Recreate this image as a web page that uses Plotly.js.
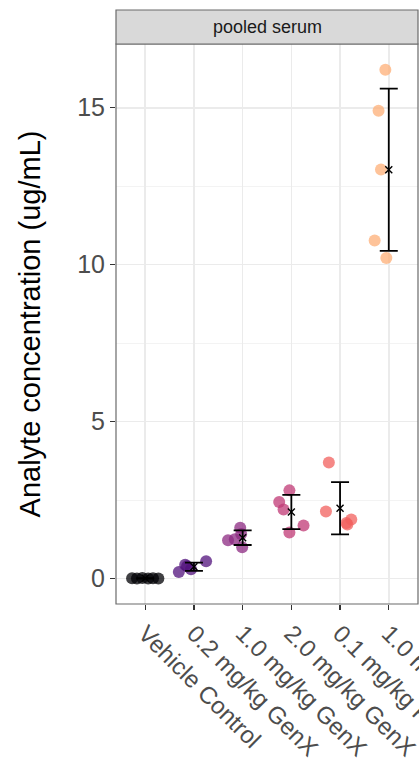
<!DOCTYPE html>
<html>
<head>
<meta charset="utf-8">
<script src="https://cdn.plot.ly/plotly-3.0.1.min.js"></script>
<style>
html,body{margin:0;padding:0;background:#fff;overflow:hidden;}
#chart{width:419px;height:759px;}
</style>
</head>
<body>
<div id="chart"></div>
<script>
// ---- data ----
const categories = ['Vehicle Control', '0.2 mg/kg GenX', '1.0 mg/kg GenX', '2.0 mg/kg GenX', '0.1 mg/kg PFOA', '1.0 mg/kg PFOA'];
const facetLabel = 'pooled serum';
const yTitle = 'Analyte concentration (ug/mL)';

const vehicleControl = [0.01, 0.00, 0.02, 0.00, 0.01, 0.00];
const genx02 = [0.21, 0.44, 0.39, 0.30, 0.55];
const genx10 = [1.62, 1.22, 1.00, 1.25, 1.42];
const genx20 = [2.81, 2.44, 2.20, 1.69, 1.47];
const pfoa01 = [3.70, 2.14, 1.77, 1.88, 1.72];
const pfoa10 = [16.21, 14.90, 13.03, 10.77, 10.21];

// horizontal jitter offsets (category units) as seen in the picture
const jitterVehicle = [-0.27, -0.17, -0.06, 0.06, 0.16, 0.27];
const jitterGenx02 = [-0.31, -0.18, -0.14, -0.06, 0.25];
const jitterGenx10 = [-0.05, -0.30, -0.01, -0.16, -0.03];
const jitterGenx20 = [-0.04, -0.25, -0.16, 0.25, -0.04];
const jitterPfoa01 = [-0.23, -0.29, 0.13, 0.23, 0.15];
const jitterPfoa10 = [-0.07, -0.21, -0.16, -0.29, -0.05];

const groupColors = ['#000004', '#51127c', '#8c2981', '#c03a76', '#f1605d', '#feaf77'];

const groups = [vehicleControl, genx02, genx10, genx20, pfoa01, pfoa10];
const jitters = [jitterVehicle, jitterGenx02, jitterGenx10, jitterGenx20, jitterPfoa01, jitterPfoa10];

function mean(a){ return a.reduce((s,v)=>s+v,0)/a.length; }
function sd(a){ const m=mean(a); return Math.sqrt(a.reduce((s,v)=>s+(v-m)*(v-m),0)/(a.length-1)); }

const traces = [];
groups.forEach((vals, i) => {
  traces.push({
    type: 'scatter', mode: 'markers',
    x: vals.map((v, j) => i + jitters[i][j]),
    y: vals,
    marker: {size: 12, color: groupColors[i], opacity: 0.75, line: {width: 0}},
    hoverinfo: 'skip', showlegend: false
  });
});

const idx = categories.map((c, i) => i);
traces.push({
  type: 'scatter', mode: 'markers',
  x: idx,
  y: groups.map(mean),
  error_y: {type: 'data', array: groups.map(sd), visible: true, color: '#000000', thickness: 1.8, width: 9},
  marker: {symbol: 'x-thin-open', size: 7, color: '#000000', line: {width: 1.4, color: '#000000'}},
  hoverinfo: 'skip', showlegend: false
});

const font = "'Liberation Sans', Arial, Helvetica, sans-serif";
const plotTop = 44, plotBottom = 604, H = 759;
const plotH = plotBottom - plotTop;
const stripH = 34;

const layout = {
  width: 419, height: 759,
  margin: {l: 116, r: 1, t: plotTop, b: H - plotBottom, pad: 0},
  paper_bgcolor: '#ffffff', plot_bgcolor: '#ffffff',
  font: {family: font, color: '#4d4d4d'},
  xaxis: {
    type: 'linear', range: [-0.6, 5.6],
    tickmode: 'array', tickvals: idx, ticktext: categories,
    tickangle: 45, tickfont: {size: 24, color: '#4d4d4d', family: font},
    ticklabeloverflow: 'allow',
    ticks: 'outside', ticklen: 5, tickwidth: 1.2, tickcolor: '#333333',
    showgrid: true, gridcolor: '#ebebeb', gridwidth: 1.6,
    zeroline: false, showline: false, fixedrange: true
  },
  yaxis: {
    range: [-0.81, 17.03],
    tickmode: 'array', tickvals: [0, 5, 10, 15], ticktext: ['0', '5', '10', '15'],
    tickfont: {size: 25, color: '#4d4d4d', family: font},
    ticks: 'outside', ticklen: 5, tickwidth: 1.2, tickcolor: '#333333',
    showgrid: true, gridcolor: '#ebebeb', gridwidth: 1.6,
    minor: {tickmode: 'array', tickvals: [2.5, 7.5, 12.5], showgrid: true, gridcolor: '#f2f2f2', gridwidth: 0.9, ticks: ''},
    zeroline: false, showline: false,
    title: {text: yTitle, font: {size: 29, color: '#000000', family: font}, standoff: 28}
  },
  shapes: [
    {type: 'rect', xref: 'paper', yref: 'paper', x0: 0, x1: 1, y0: 0, y1: 1,
     line: {color: '#6b6b6b', width: 1.2}, fillcolor: 'rgba(0,0,0,0)', layer: 'above'},
    {type: 'rect', xref: 'paper', yref: 'paper', x0: 0, x1: 1, y0: 1, y1: 1 + stripH / plotH,
     line: {color: '#6b6b6b', width: 1.2}, fillcolor: '#d9d9d9', layer: 'above'}
  ],
  annotations: [
    {xref: 'paper', yref: 'paper', x: 0.5, y: 1 + (stripH / 2) / plotH, text: facetLabel,
     showarrow: false, xanchor: 'center', yanchor: 'middle',
     font: {size: 18, color: '#1a1a1a', family: font}}
  ]
};

Plotly.newPlot('chart', traces, layout, {displayModeBar: false, staticPlot: true});
</script>
</body>
</html>
